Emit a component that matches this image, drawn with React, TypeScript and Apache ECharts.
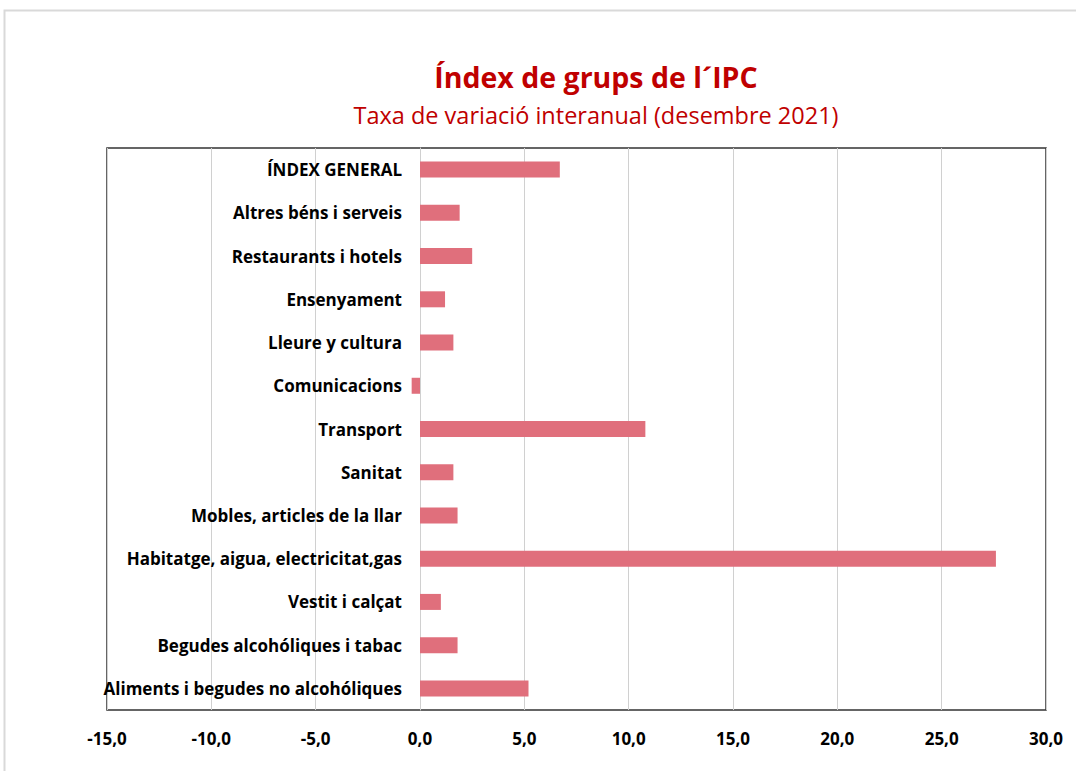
import React, { useEffect, useRef } from "react";
import * as echarts from "echarts";

const categories = [
  "ÍNDEX GENERAL",
  "Altres béns i serveis",
  "Restaurants i hotels",
  "Ensenyament",
  "Lleure y cultura",
  "Comunicacions",
  "Transport",
  "Sanitat",
  "Mobles, articles de la llar",
  "Habitatge, aigua, electricitat,gas",
  "Vestit i calçat",
  "Begudes alcohóliques i tabac",
  "Aliments i begudes no alcohóliques",
];
const values = [6.7, 1.9, 2.5, 1.2, 1.6, -0.4, 10.8, 1.6, 1.8, 27.6, 1.0, 1.8, 5.2];

const titleText = "Índex de grups de l´IPC";
const subtitleText = "Taxa de variació interanual (desembre 2021)";

const xMin = -15;
const xMax = 30;
const xStep = 5;

export default function App() {
  const ref = useRef<HTMLDivElement>(null);
  useEffect(() => {
    if (!ref.current) return;
    const chart = echarts.init(ref.current, null, { renderer: "svg" });
    const font = "'Open Sans', sans-serif";
    const gridLeft = 107;
    const gridRight = 30;
    const gridWidth = 1076 - gridLeft - gridRight;
    const zeroOffset = (gridWidth * (0 - xMin)) / (xMax - xMin);
    chart.setOption({
      animation: false,
      backgroundColor: "#ffffff",
      graphic: [
        {
          type: "rect",
          shape: { x: 4.5, y: 10.5, width: 1100, height: 800 },
          style: { fill: "none", stroke: "#d9d9d9", lineWidth: 2 },
          silent: true,
        },
      ],
      title: [
        {
          text: titleText,
          left: 591,
          textAlign: "center",
          top: 57,
          textStyle: { fontFamily: font, fontSize: 28.5, fontWeight: "bold", color: "#c00000" },
        },
        {
          text: subtitleText,
          left: 591,
          textAlign: "center",
          top: 98,
          textStyle: { fontFamily: font, fontSize: 23.5, fontWeight: "normal", color: "#c00000" },
        },
      ],
      grid: {
        left: gridLeft,
        right: gridRight,
        top: 148,
        bottom: 61,
        show: true,
        borderColor: "#333333",
        borderWidth: 1.5,
        backgroundColor: "#ffffff",
        containLabel: false,
        outerBoundsMode: "none",
      },
      xAxis: {
        type: "value",
        min: xMin,
        max: xMax,
        interval: xStep,
        axisLine: { show: false },
        axisTick: { show: false },
        splitLine: { show: true, lineStyle: { color: "#d0d0d0", width: 1 } },
        axisLabel: {
          margin: 20,
          fontFamily: font,
          fontSize: 17,
          fontWeight: "bold",
          color: "#000000",
          formatter: (v: number) => v.toFixed(1).replace(".", ","),
        },
      },
      yAxis: {
        type: "category",
        data: categories,
        inverse: true,
        position: "left",
        offset: -zeroOffset,
        axisLine: { show: true, onZero: false, lineStyle: { color: "#d0d0d0", width: 1 } },
        axisTick: { show: false },
        splitLine: { show: false },
        axisLabel: {
          margin: 18,
          fontFamily: font,
          fontSize: 17,
          fontWeight: "bold",
          color: "#000000",
        },
      },
      series: [
        {
          type: "bar",
          data: values,
          barWidth: 16,
          itemStyle: { color: "#e06f7c" },
        },
      ],
    });
    return () => chart.dispose();
  }, []);
  return (
    <div
      ref={ref}
      style={{ position: "absolute", left: 0, top: 0, width: 1076, height: 771 }}
    />
  );
}
